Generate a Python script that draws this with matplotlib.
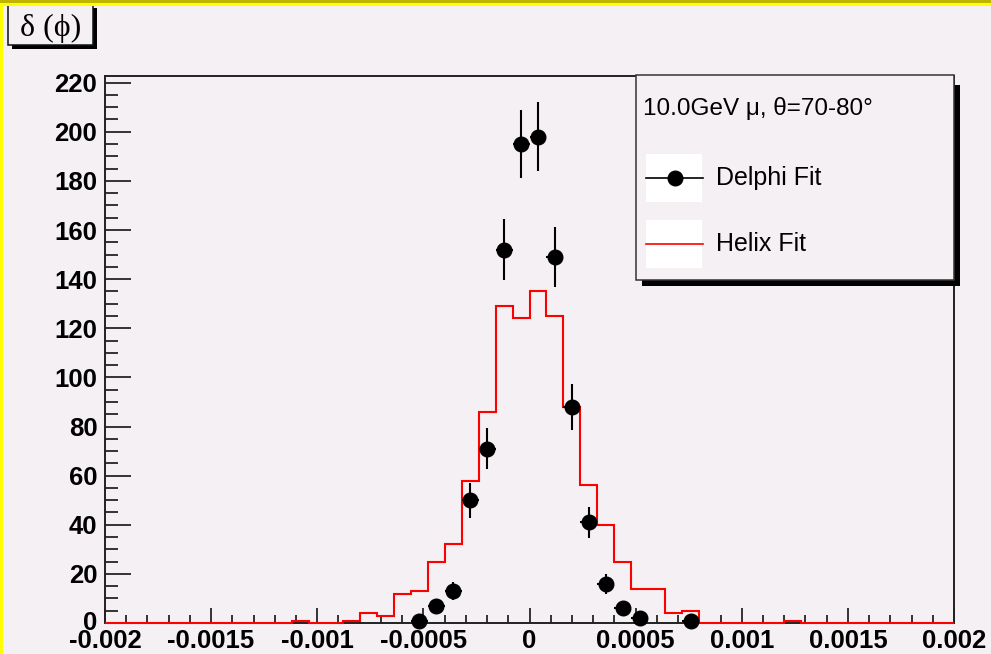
import numpy as np
import matplotlib
matplotlib.use("Agg")
import matplotlib.pyplot as plt
import matplotlib.transforms as mtransforms
from matplotlib.patches import Rectangle
from matplotlib.lines import Line2D
from matplotlib.ticker import MultipleLocator

# 50 bins on [-0.002, 0.002]
bin_edges = np.linspace(-0.002, 0.002, 51)

helix_fit = [0, 0, 0, 0, 0, 0, 0, 0, 0, 0,
             0, 1, 0, 0, 1, 4, 3, 12, 13, 25,
             32, 58, 86, 129, 124, 135, 125, 88, 56, 40,
             25, 14, 14, 4, 5, 0, 0, 0, 0, 0,
             1, 0, 0, 0, 0, 0, 0, 0, 0, 0]

delphi_fit = [0, 0, 0, 0, 0, 0, 0, 0, 0, 0,
              0, 0, 0, 0, 0, 0, 0, 0, 1, 7,
              13, 50, 71, 152, 195, 198, 149, 88, 41, 16,
              6, 2, 0, 0, 1, 0, 0, 0, 0, 0,
              0, 0, 0, 0, 0, 0, 0, 0, 0, 0]

xtick_vals = [-0.002, -0.0015, -0.001, -0.0005, 0, 0.0005, 0.001, 0.0015, 0.002]
xtick_labels = ["-0.002", "-0.0015", "-0.001", "-0.0005", "0",
                "0.0005", "0.001", "0.0015", "0.002"]
ytick_vals = list(range(0, 221, 20))

title_text = "δ (ϕ)"
legend_header = "10.0GeV μ, θ=70-80°"
legend_labels = ["Delphi Fit", "Helix Fit"]

bg = "#f5f0f4"
plt.rcParams["font.family"] = ["Liberation Sans", "DejaVu Sans"]

W, H = 991, 654
fig = plt.figure(figsize=(W / 100, H / 100), dpi=100, facecolor=bg)


def fx(x):
    return x / W


def fy(y):
    return 1 - y / H


ax = fig.add_axes([fx(105), fy(623), (954 - 105) / W, (623 - 76) / H])
ax.set_facecolor(bg)

centers = 0.5 * (bin_edges[:-1] + bin_edges[1:])
binw = bin_edges[1] - bin_edges[0]

# red histogram
st = ax.stairs(helix_fit, bin_edges, color="red", lw=1.5, zorder=3)
st.set_clip_on(False)

# black points with sqrt(N) errors
d = np.array(delphi_fit, dtype=float)
m = d > 0
eb = ax.errorbar(centers[m], d[m], yerr=np.sqrt(d[m]), xerr=binw / 2,
                 fmt="o", color="black", ms=10.5, elinewidth=1.5, capsize=0,
                 zorder=4)
for a in eb.get_children():
    a.set_clip_on(False)

ax.set_xlim(-0.002, 0.002)
ax.set_ylim(0, 222.7)

ax.set_xticks(xtick_vals)
ax.set_xticklabels(xtick_labels)
ax.xaxis.set_minor_locator(MultipleLocator(0.0001))
ax.set_yticks(ytick_vals)
ax.yaxis.set_minor_locator(MultipleLocator(5))

ax.tick_params(axis="x", which="major", direction="in", length=10.8, width=1.1,
               pad=4.0, labelsize=18.5, top=False)
ax.tick_params(axis="x", which="minor", direction="in", length=5.8, width=1.1,
               top=False)
ax.tick_params(axis="y", which="major", direction="in", length=18.7, width=1.1,
               pad=5.5, labelsize=18.5, right=False)
ax.tick_params(axis="y", which="minor", direction="in", length=9.4, width=1.1,
               right=False)
for lab in ax.get_xticklabels() + ax.get_yticklabels():
    lab.set_fontweight("bold")
# lift the "0" on the y axis a little so it clears the x labels
zero_lab = ax.get_yticklabels()[0]
zero_lab.set_transform(zero_lab.get_transform() +
                       mtransforms.ScaledTranslation(0, 3 / 100,
                                                     fig.dpi_scale_trans))

for sp in ax.spines.values():
    sp.set_linewidth(1.4)
    sp.set_color("#222222")

# frame stripes along top and left
fig.add_artist(Rectangle((0, fy(3)), 1, 3 / H, transform=fig.transFigure,
                         facecolor="#bfb400", edgecolor="none", zorder=10))
fig.add_artist(Rectangle((0, fy(6)), 1, 3 / H, transform=fig.transFigure,
                         facecolor="#ffff00", edgecolor="none", zorder=10))
fig.add_artist(Rectangle((0, 0), 3 / W, fy(3), transform=fig.transFigure,
                         facecolor="#ffff00", edgecolor="none", zorder=10))

# title box with shadow
fig.add_artist(Rectangle((fx(12), fy(49)), (97 - 12) / W, (49 - 8) / H,
                         transform=fig.transFigure, facecolor="black",
                         edgecolor="none", zorder=5))
fig.add_artist(Rectangle((fx(8), fy(45)), (93 - 8) / W, (45 - 4) / H,
                         transform=fig.transFigure, facecolor=bg,
                         edgecolor="#111111", lw=1.1, zorder=6))
fig.text(fx(51), fy(28), title_text, ha="center", va="center", fontsize=23,
         family=["Liberation Serif", "DejaVu Serif"], zorder=7)

# legend box with shadow
fig.add_artist(Rectangle((fx(642), fy(286)), (960 - 642) / W, (286 - 85) / H,
                         transform=fig.transFigure, facecolor="black",
                         edgecolor="none", zorder=5))
fig.add_artist(Rectangle((fx(636), fy(280)), (954 - 636) / W, (280 - 75) / H,
                         transform=fig.transFigure, facecolor=bg,
                         edgecolor="#333333", lw=1.1, zorder=6))
fig.text(fx(643), fy(108), legend_header, ha="left", va="center",
         fontsize=17.5, zorder=7)

for i, lab in enumerate(legend_labels):
    yc = 178 + 66 * i
    fig.add_artist(Rectangle((fx(646), fy(yc + 24)), (702 - 646) / W, 48 / H,
                             transform=fig.transFigure, facecolor="white",
                             edgecolor="none", zorder=7))
    if i == 0:
        fig.add_artist(Line2D([fx(646), fx(703)], [fy(yc), fy(yc)],
                              transform=fig.transFigure, color="black",
                              lw=1.2, zorder=8))
        fig.add_artist(Line2D([fx(675)], [fy(yc)], transform=fig.transFigure,
                              marker="o", ms=10.5, color="black", zorder=9))
    else:
        fig.add_artist(Line2D([fx(646), fx(703)], [fy(yc), fy(yc)],
                              transform=fig.transFigure, color="red",
                              lw=1.2, zorder=8))
    fig.text(fx(716), fy(yc), lab, ha="left", va="center", fontsize=18,
             zorder=8)

fig.savefig("out.png", dpi=100, facecolor=bg)
